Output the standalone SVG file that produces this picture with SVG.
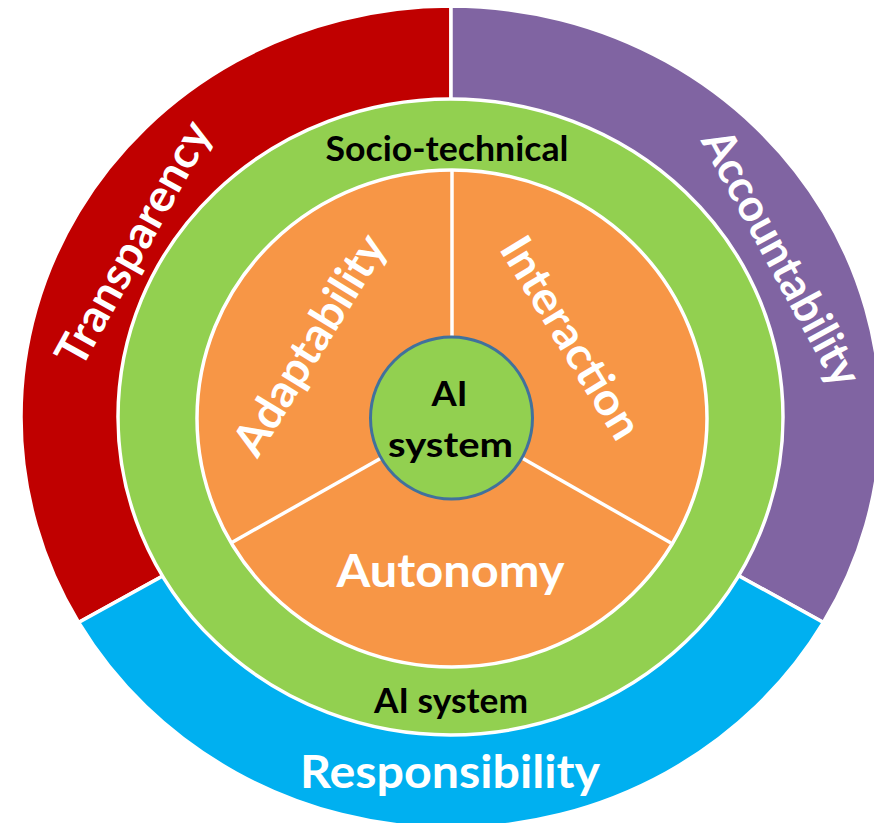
<svg xmlns="http://www.w3.org/2000/svg" width="874" height="823" viewBox="0 0 874 823">
<style>
.seg{stroke:#ffffff;stroke-width:3.5;stroke-linejoin:miter}
.ring{stroke:#ffffff;stroke-width:3.5}
.div{stroke:#ffffff;stroke-width:3.5;fill:none}
.lbl{font-family:Lato,"Open Sans","Liberation Sans",sans-serif;font-weight:bold;text-anchor:middle}
.big{font-size:45px;fill:#ffffff}
.small{font-size:34px;fill:#000000}
</style>
<rect width="874" height="823" fill="#ffffff"/>
<g id="transparency">
<path class="seg" fill="#C00000" d="M451,417 L451,6 A430,411 0 0 0 78.6,622.5 Z"/>
<text class="lbl big" transform="translate(136.5,245) rotate(-61)" x="0" y="12" textLength="272" lengthAdjust="spacingAndGlyphs">Transparency</text>
</g>
<g id="accountability">
<path class="seg" fill="#8064A2" d="M451,417 L451,6 A430,411 0 0 1 823.4,622.5 Z"/>
<text class="lbl big" transform="translate(778.5,259.5) rotate(61.5)" x="0" y="12" textLength="284" lengthAdjust="spacingAndGlyphs">Accountability</text>
</g>
<g id="responsibility">
<path class="seg" fill="#00B0F0" d="M451,417 L823.4,622.5 A430,411 0 0 1 78.6,622.5 Z"/>
<text class="lbl big" x="450" y="788" textLength="300" lengthAdjust="spacingAndGlyphs">Responsibility</text>
</g>
<g id="socio-technical">
<ellipse class="ring" cx="450.5" cy="417" rx="332.5" ry="318" fill="#92D050"/>
<text class="lbl small" x="447" y="161" textLength="243" lengthAdjust="spacingAndGlyphs">Socio-technical</text>
<text class="lbl small" x="451" y="713" textLength="154" lengthAdjust="spacingAndGlyphs">AI system</text>
</g>
<g id="ai-properties">
<ellipse class="ring" cx="452" cy="418.5" rx="255" ry="248.5" fill="#F79646"/>
<g id="dividers">
<line class="div" x1="452" y1="418" x2="452" y2="170"/>
<line class="div" x1="452" y1="418" x2="231" y2="543"/>
<line class="div" x1="452" y1="418" x2="671" y2="543"/>
</g>
</g>
<g id="adaptability">
<text class="lbl big" transform="translate(312.5,346.5) rotate(-58.5)" x="0" y="12" textLength="250" lengthAdjust="spacingAndGlyphs">Adaptability</text>
</g>
<g id="interaction">
<text class="lbl big" transform="translate(571.5,337.5) rotate(58.7)" x="0" y="16" textLength="228" lengthAdjust="spacingAndGlyphs">Interaction</text>
</g>
<g id="autonomy">
<text class="lbl big" x="450.5" y="587" textLength="228" lengthAdjust="spacingAndGlyphs">Autonomy</text>
</g>
<g id="ai-system-core">
<circle cx="451.5" cy="418" r="81" fill="#92D050" stroke="#41719C" stroke-width="3"/>
<text class="lbl small" x="449.5" y="406" textLength="36" lengthAdjust="spacingAndGlyphs">AI</text>
<text class="lbl small" x="450.5" y="457" textLength="125" lengthAdjust="spacingAndGlyphs">system</text>
</g>
</svg>
